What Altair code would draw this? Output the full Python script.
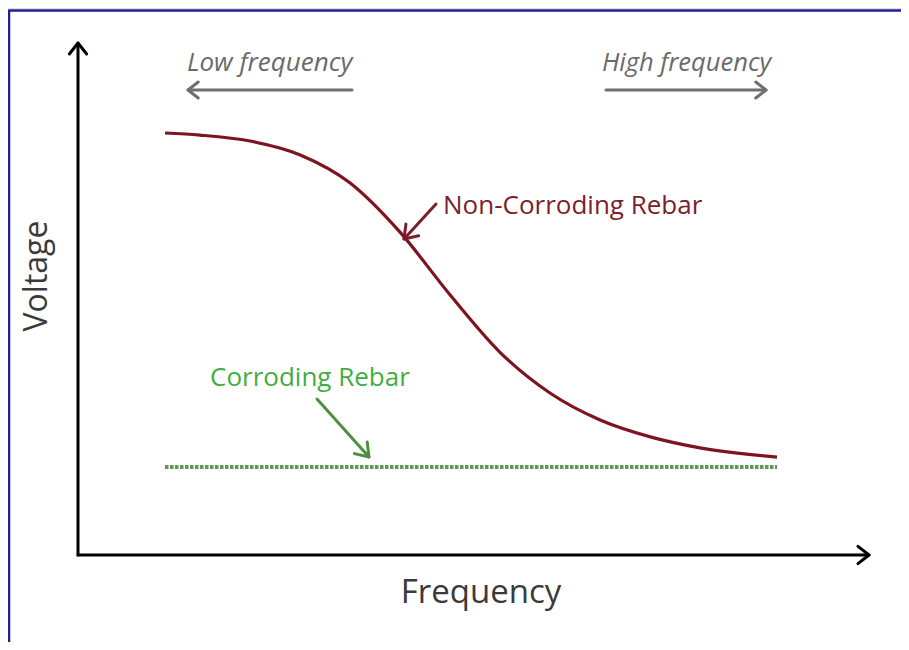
import altair as alt
import pandas as pd
import math

# ---- data (abstract units) ----
freq = [0.0, 0.57, 1.39, 2.21, 3.02, 3.84, 4.66, 5.47, 6.29, 7.11, 7.93, 8.74, 10.0]
volt_noncorr = [10.0, 9.95, 9.81, 9.48, 8.82, 7.65, 6.16, 4.81, 3.84, 3.20, 2.80, 2.54, 2.32]
corr_x = [0.0, 10.0]
volt_corr = [2.085, 2.085]

# ---- layout helpers (page pixel -> data units) ----
X0, SX, Y0, SY = 165.0, 61.2, 555.0, 42.2
def X(p): return (p - X0) / SX
def Y(p): return (Y0 - p) / SY

W, H = 893, 634
xdom = [X(8), X(8 + W)]
ydom = [Y(8 + H), Y(8)]
xs = alt.Scale(domain=xdom, nice=False, zero=False)
ys = alt.Scale(domain=ydom, nice=False, zero=False)

segs = []
def poly(pts, color, w, gid):
    for i, (px, py) in enumerate(pts):
        segs.append(dict(x=X(px), y=Y(py), g=gid, c=color, w=w, o=i))

def arrow(x1, y1, x2, y2, color, w, gid, head=13, ang=35):
    poly([(x1, y1), (x2, y2)], color, w, gid + "_s")
    a = math.atan2(y1 - y2, x1 - x2)
    r = math.radians(ang)
    p1 = (x2 + head * math.cos(a + r), y2 + head * math.sin(a + r))
    p2 = (x2 + head * math.cos(a - r), y2 + head * math.sin(a - r))
    poly([p1, (x2, y2), p2], color, w, gid + "_h")

# frame (navy, left & top)
poly([(9, 648), (9, 10.5), (905, 10.5)], "#1f1f8f", 2.5, "frame")
# axes
arrow(78, 555, 78, 43, "#000000", 3, "yax", head=14, ang=38)
arrow(78, 555, 869, 555, "#000000", 3, "xax", head=14, ang=38)
# low / high frequency arrows
arrow(352, 90, 188, 90, "#6f6f6f", 3, "low", head=13, ang=38)
arrow(606, 90, 766, 90, "#6f6f6f", 3, "high", head=13, ang=38)
# annotation arrows
arrow(436, 204, 404, 239, "#7a1f2b", 3, "nc", head=15, ang=35)
arrow(317, 399, 369, 457, "#4f8f3f", 3, "c", head=15, ang=35)

seg_df = pd.DataFrame(segs)

deco = alt.Chart(seg_df).mark_line(strokeCap="round", strokeJoin="round").encode(
    x=alt.X("x:Q", scale=xs, axis=None),
    y=alt.Y("y:Q", scale=ys, axis=None),
    detail="g:N",
    order="o:Q",
    color=alt.Color("c:N", scale=None),
    strokeWidth=alt.StrokeWidth("w:Q", scale=None),
)

nc_df = pd.DataFrame({"f": freq, "v": volt_noncorr})
curve = alt.Chart(nc_df).mark_line(color="#7d1420", strokeWidth=3.2, interpolate="monotone").encode(
    x=alt.X("f:Q", scale=xs, axis=None),
    y=alt.Y("v:Q", scale=ys, axis=None),
)

c_df = pd.DataFrame({"f": corr_x, "v": volt_corr})
green = alt.Chart(c_df).mark_line(color="#5f9a52", strokeWidth=4, strokeDash=[3.5, 1.5]).encode(
    x=alt.X("f:Q", scale=xs, axis=None),
    y=alt.Y("v:Q", scale=ys, axis=None),
)

FONT = "Open Sans"
texts = [
    dict(t="Low frequency", x=X(187), y=Y(63), c="#6a6a6a", s=26, a="left", st="italic", ang=0),
    dict(t="High frequency", x=X(602), y=Y(63), c="#6a6a6a", s=25.5, a="left", st="italic", ang=0),
    dict(t="Non-Corroding Rebar", x=X(443), y=Y(206), c="#7a1f2b", s=26, a="left", st="normal", ang=0),
    dict(t="Corroding Rebar", x=X(210), y=Y(378), c="#3fae3f", s=26, a="left", st="normal", ang=0),
    dict(t="Frequency", x=X(481), y=Y(593), c="#3a3a3a", s=33, a="center", st="normal", ang=0),
    dict(t="Voltage", x=X(37), y=Y(276), c="#3a3a3a", s=32, a="center", st="normal", ang=270),
]

layers = [deco, green, curve]
for d in texts:
    tdf = pd.DataFrame([{"t": d["t"], "x": d["x"], "y": d["y"]}])
    layers.append(
        alt.Chart(tdf).mark_text(
            font=FONT, fontSize=d["s"], color=d["c"], align=d["a"], baseline="middle",
            fontStyle=d["st"], angle=d["ang"],
        ).encode(
            x=alt.X("x:Q", scale=xs, axis=None),
            y=alt.Y("y:Q", scale=ys, axis=None),
            text="t:N",
        )
    )

chart = alt.layer(*layers).properties(
    width=W, height=H, padding=0, autosize=alt.AutoSizeParams(type="none")
).configure_view(stroke=None).configure(background="white")

chart.save("out.html", embed_options={"renderer": "svg", "actions": False})
